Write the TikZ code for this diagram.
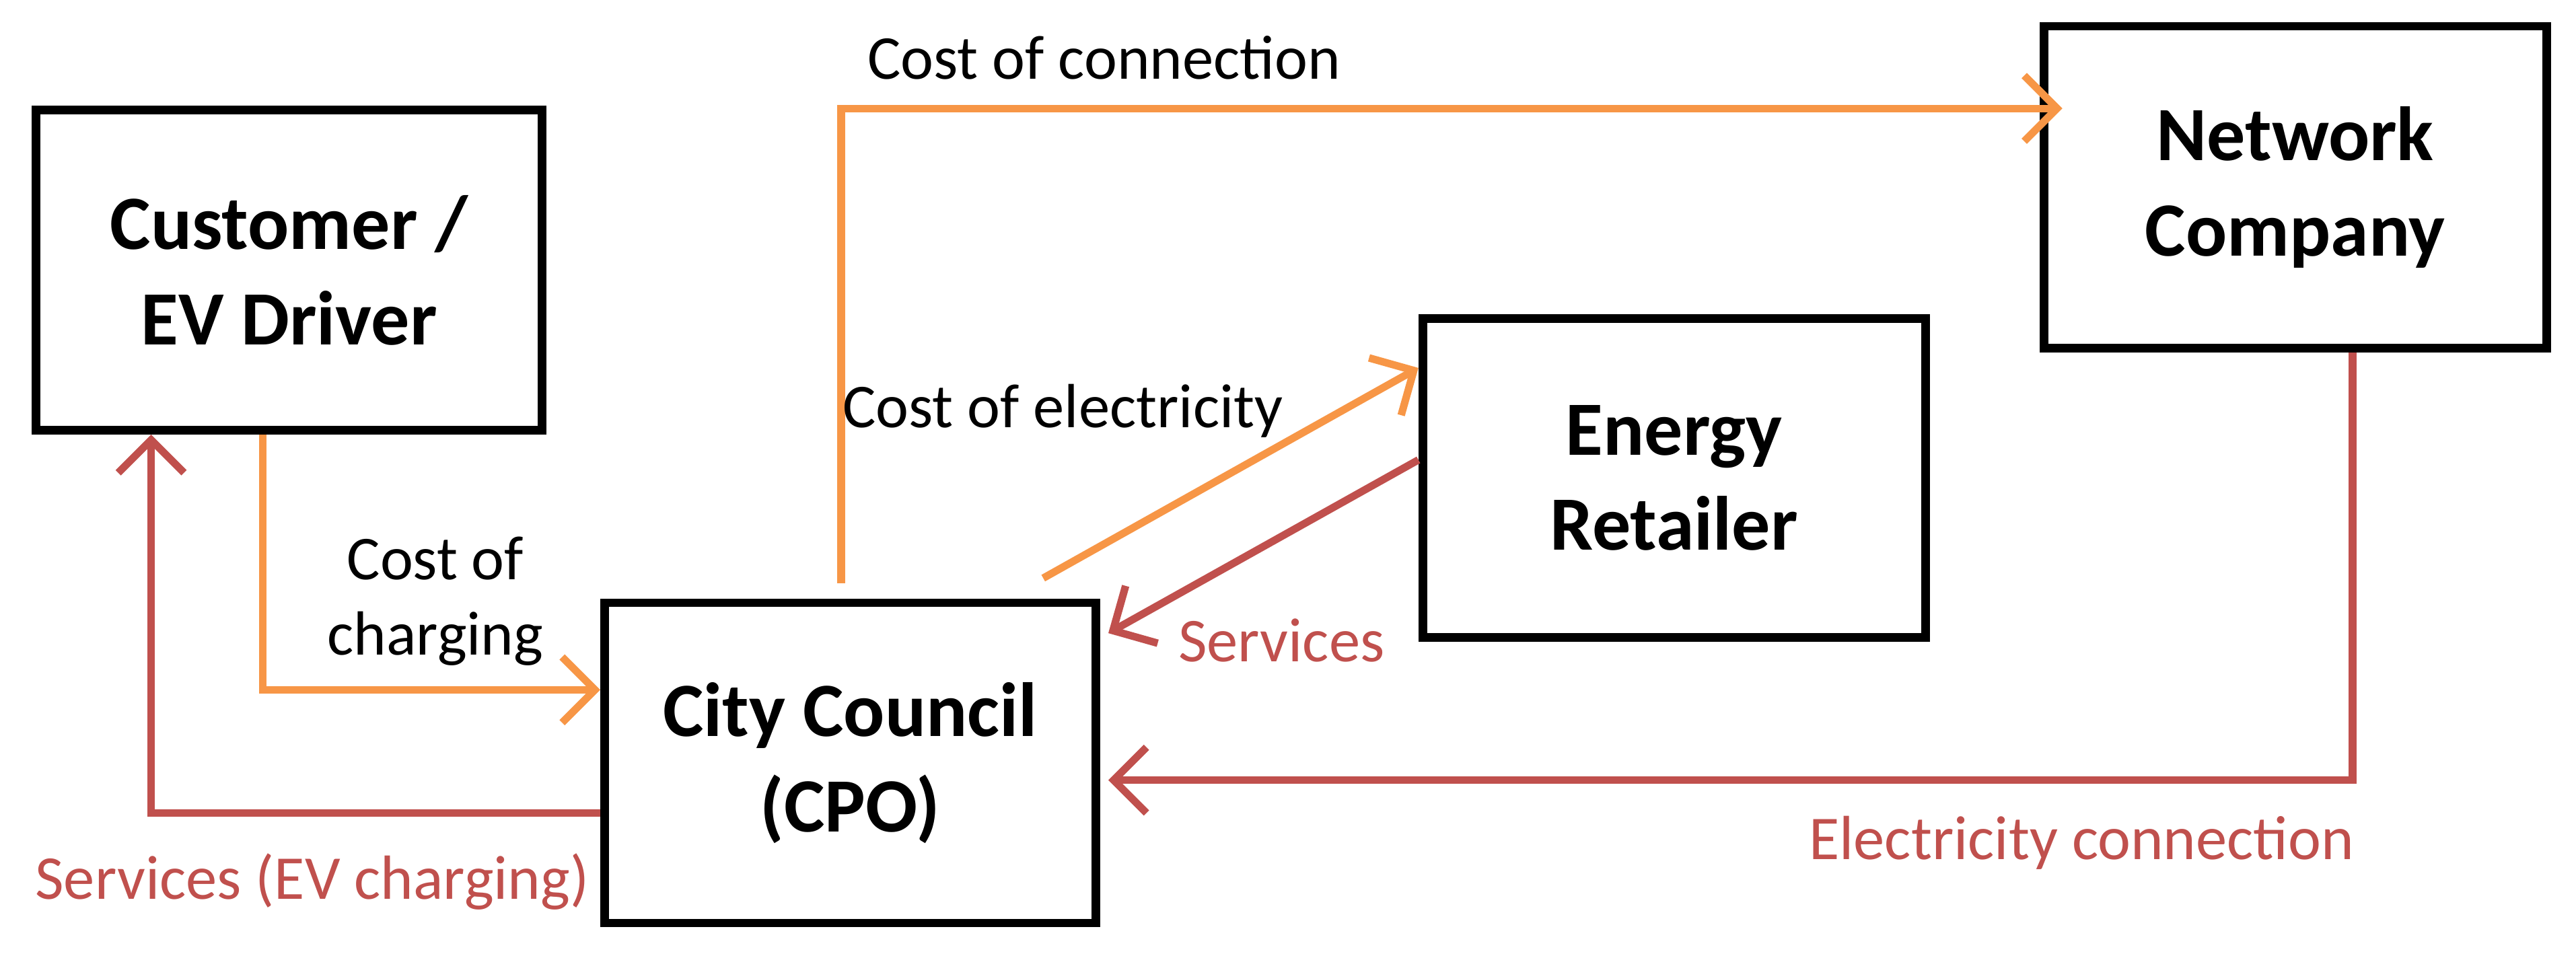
\documentclass[tikz,border=0pt]{standalone}
\usepackage{fontspec}
\setmainfont{Carlito}
\usetikzlibrary{arrows.meta,positioning}
\definecolor{payorange}{HTML}{F79646}
\definecolor{servred}{HTML}{C0504D}
\begin{document}
\begin{tikzpicture}[box/.style={draw,line width=1.5pt,align=center,font=\fontsize{13.3}{16.5}\selectfont\bfseries},
  pay/.style={draw=payorange,line width=1.3pt,-{Straight Barb[length=2mm,width=4mm]}},
  serv/.style={draw=servred,line width=1.3pt,-{Straight Barb[length=2mm,width=4mm]}},
  lbl/.style={font=\fontsize{10.8}{13}\selectfont,align=center}]
  \useasboundingbox (0,0) rectangle (15.68,-5.83);
  \node[box,minimum width=3.08cm,minimum height=1.95cm] (cust) at (1.76,-1.645) {Customer /\\EV Driver};
  \node[box,minimum width=2.99cm,minimum height=1.95cm] (city) at (5.175,-4.645) {City Council\\(CPO)};
  \node[box,minimum width=3.06cm,minimum height=1.94cm] (ret) at (10.19,-2.91) {Energy\\Retailer};
  \node[box,minimum width=3.06cm,minimum height=1.96cm] (net) at (13.97,-1.14) {Network\\Company};

  \coordinate (connstart) at (5.12,-3.55);
  \coordinate (elecstart) at (6.35,-3.52);

  \draw[pay] ([xshift=-1.6mm]cust.south) |- ([yshift=4.45mm]city.west);
  \draw[serv] ([yshift=-3.05mm]city.west) -| ([xshift=-8.4mm]cust.south);
  \draw[pay] (connstart) |- ([xshift=1.4mm,yshift=4.8mm]net.west);
  \draw[pay] (elecstart) -- ([yshift=6.7mm]ret.west);
  \draw[serv] ([yshift=1.1mm]ret.west) -- ([xshift=0.5mm,yshift=7.9mm]city.east);
  \draw[serv] ([xshift=3.5mm]net.south) |- ([xshift=0.5mm,yshift=-1.05mm]city.east);

  \node[lbl] (lcharge) at (2.65,-3.66) {Cost of\\charging};
  \node[lbl,text=servred] (lservev) at (1.9,-5.37) {Services (EV charging)};
  \node[lbl] (lconn) at (6.72,-0.35) {Cost of connection};
  \node[lbl] (lelec) at (6.47,-2.5) {Cost of electricity};
  \node[lbl,text=servred] (lserv) at (7.8,-3.9) {Services};
  \node[lbl,text=servred] (lelconn) at (12.67,-5.13) {Electricity connection};
\end{tikzpicture}
\end{document}
